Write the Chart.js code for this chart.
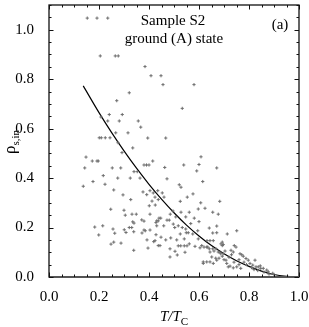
<!DOCTYPE html>
<html>
<head>
<meta charset="utf-8">
<script src="https://cdn.jsdelivr.net/npm/chart.js@4.4.1/dist/chart.umd.min.js"></script>
<style>
  body { margin: 0; background: #fff; }
  #wrap { width: 309px; height: 327px; }
</style>
</head>
<body>
<div id="wrap"><canvas id="myChart" width="309" height="327"></canvas></div>
<script>
// measured points, T/Tc
const pointsX = [
  0.153,0.192,0.235, 0.205,0.265,0.277, 0.384,0.408,0.448, 0.456,0.58,
  0.321,0.271,0.533, 0.241,0.293,0.208, 0.235,0.281,0.357, 0.367, 0.267,0.316,
  0.201,0.209,0.225,0.244,0.395,0.467, 0.276,0.335,0.292, 0.148,0.608,
  0.173,0.192,0.197,0.415, 0.38,0.39,0.40,0.539,0.6,
  0.463,0.143,0.253,0.287,0.671, 0.591,0.34,0.353,
  0.217,0.275,0.325,0.364,0.472, 0.176,0.615,0.224,0.521,0.137,0.528,
  0.259,0.404,0.435,0.376,0.417,0.453,0.576, 0.296,0.391,0.424,0.46,0.553,
  0.327,0.437,0.412,0.525,0.683,0.607, 0.425,0.401,
  0.624,0.247,0.3,0.597, 0.496,0.528,0.561,0.655,
  0.305,0.332,0.349,0.404,0.485,0.677, 0.507,0.547,0.44,0.447,0.581,
  0.371,0.38,0.472,0.481,0.437,0.431,0.428, 0.6,0.335,0.34,0.567,0.497,
  0.183,0.215,0.431,0.459,0.517,0.671, 0.321,0.331,0.503,0.533,0.641,
  0.256,0.301,0.38,0.385,0.404,0.547,0.595,0.751,
  0.308,0.339,0.372,0.263,0.549,0.557,0.655,0.671,
  0.199,0.428,0.525,0.575,0.713, 0.448,0.487,0.541,0.597,
  0.392,0.467,0.511,0.424,0.632,0.644,0.657,
  0.419,0.259,0.693,0.288,0.561,0.688,0.248,0.697,
  0.437,0.444,0.611,0.693,0.741, 0.517,0.527,0.541,0.552,0.584,
  0.62,0.631,0.635,0.748, 0.396,0.604,
  0.484,0.641,0.655,0.668, 0.339,0.728,0.66,0.704,0.504,
  0.644,0.677,0.737,0.544,0.684, 0.697,0.687,0.764,0.771,0.513,
  0.484,0.651,0.693,0.777, 0.667,0.68,0.788, 0.797,0.824,0.671,0.708,
  0.631,0.617,0.644, 0.617,0.657,0.711,0.804,
  0.815,0.724,0.717,0.751,0.828,0.837, 0.737,0.767,0.847,0.857,0.871,0.877,0.895,
  0.79,0.81,0.82,0.835,0.845,0.86,0.88,0.9,0.78,0.76,0.74,0.72,0.70,0.76,0.73
];
const pointsY = [
  1.047,1.047,1.047, 0.894,0.894,0.894, 0.851,0.814,0.814, 0.778,0.778,
  0.745,0.713,0.682, 0.657,0.657,0.647, 0.631,0.631,0.631, 0.606, 0.583,0.583,
  0.563,0.563,0.563,0.563,0.562,0.562, 0.543,0.522,0.503, 0.485,0.486,
  0.469,0.469,0.469,0.469, 0.453,0.453,0.453,0.453,0.455,
  0.443,0.441,0.441,0.441,0.441, 0.429,0.426,0.426,
  0.41,0.40,0.40,0.40,0.397, 0.386,0.386,0.375,0.373,0.367,0.363,
  0.352,0.349,0.349,0.344,0.34,0.34,0.336, 0.332,0.333,0.323,0.323,0.323,
  0.313,0.313,0.307,0.306,0.306,0.30, 0.291,0.288,
  0.278,0.274,0.27,0.275, 0.267,0.262,0.262,0.262,
  0.25,0.254,0.254,0.254,0.254,0.254, 0.243,0.243,0.238,0.238,0.238,
  0.231,0.226,0.23,0.23,0.227,0.227,0.22, 0.224,0.223,0.218,0.216,0.214,
  0.202,0.207,0.207,0.207,0.207,0.206, 0.2,0.2,0.2,0.2,0.198,
  0.194,0.191,0.19,0.187,0.19,0.194,0.187,0.187,
  0.18,0.183,0.178,0.177,0.179,0.179,0.178,0.179,
  0.17,0.171,0.174,0.174,0.174, 0.161,0.158,0.154,0.154,
  0.15,0.15,0.15,0.147,0.147,0.147,0.147,
  0.143,0.141,0.141,0.137,0.134,0.134,0.133,0.131,
  0.127,0.127,0.127,0.127,0.127, 0.126,0.126,0.126,0.126,0.124,
  0.121,0.121,0.121,0.121, 0.117,0.118,
  0.114,0.114,0.114,0.114, 0.108,0.108,0.105,0.105,0.104,
  0.101,0.101,0.101,0.1,0.1, 0.094,0.094,0.094,0.09,0.089,
  0.081,0.081,0.084,0.084, 0.076,0.076,0.075, 0.068,0.068,0.068,0.068,
  0.061,0.061,0.061, 0.055,0.055,0.055,0.055,
  0.048,0.044,0.041,0.041,0.041,0.041, 0.037,0.035,0.035,0.035,0.028,0.021,0.015,
  0.05,0.038,0.03,0.026,0.045,0.02,0.012,0.01,0.06,0.05,0.06,0.08,0.07,0.07,0.09
];

// solid curve
const curveX = [0.137, 0.2, 0.25, 0.3, 0.35, 0.4, 0.45, 0.5, 0.55, 0.6, 0.65, 0.7, 0.75, 0.8, 0.85, 0.9, 0.95, 1.0];
const curveY = [0.773, 0.665, 0.585, 0.51, 0.44, 0.375, 0.315, 0.26, 0.21, 0.166, 0.127, 0.094, 0.066, 0.043, 0.024, 0.01, 0.003, 0.0];

const xTicks = [0, 0.2, 0.4, 0.6, 0.8, 1.0];
const yTicks = [0, 0.2, 0.4, 0.6, 0.8, 1.0];

const serif = "'Liberation Serif', 'DejaVu Serif', serif";

const frame = {
  id: 'frame',
  afterDraw(chart) {
    const ctx = chart.ctx;
    const a = chart.chartArea;
    const xs = chart.scales.x, ys = chart.scales.y;
    ctx.save();
    ctx.strokeStyle = '#111';
    ctx.lineWidth = 1.3;
    ctx.strokeRect(a.left, a.top, a.right - a.left, a.bottom - a.top);
    // bottom axis a bit heavier
    ctx.strokeStyle = '#555';
    ctx.lineWidth = 2;
    ctx.beginPath();
    ctx.moveTo(a.left, a.bottom); ctx.lineTo(a.right, a.bottom);
    ctx.stroke();
    ctx.strokeStyle = '#111';
    ctx.lineWidth = 1;
    ctx.beginPath();
    for (let i = 0; i <= 20; i++) {
      const px = Math.round(xs.getPixelForValue(i / 20)) + 0.5;
      const len = i % 4 == 0 ? 4.5 : 2.5;
      ctx.moveTo(px, a.bottom); ctx.lineTo(px, a.bottom - len);
      ctx.moveTo(px, a.top); ctx.lineTo(px, a.top + len);
    }
    for (let i = 0; i <= 22; i++) {
      const py = Math.round(ys.getPixelForValue(i / 20)) + 0.5;
      const len = i % 4 == 0 ? 4.5 : 2.5;
      ctx.moveTo(a.left, py); ctx.lineTo(a.left + len, py);
      ctx.moveTo(a.right, py); ctx.lineTo(a.right - len, py);
    }
    ctx.stroke();

    // labels
    ctx.fillStyle = '#000';
    ctx.textBaseline = 'alphabetic';
    ctx.textAlign = 'center';
    ctx.font = '15px ' + serif;
    ctx.fillText('Sample S2', 173, 25);
    ctx.fillText('ground (A) state', 174, 43);
    ctx.fillText('(a)', 280, 29);

    // x title T/T_C
    const cx = (a.left + a.right) / 2;
    ctx.textAlign = 'left';
    ctx.font = 'italic 15px ' + serif;
    const w1 = ctx.measureText('T/T').width;
    ctx.font = '11px ' + serif;
    const w2 = ctx.measureText('C').width;
    let sx = cx - (w1 + w2) / 2;
    ctx.font = 'italic 15px ' + serif;
    ctx.fillText('T/T', sx, 321);
    ctx.font = '11px ' + serif;
    ctx.fillText('C', sx + w1, 325);

    // y title rho_s,in
    ctx.translate(15, 142);
    ctx.rotate(-Math.PI / 2);
    ctx.font = '17px ' + serif;
    const r1 = ctx.measureText('ρ').width;
    ctx.font = '11px ' + serif;
    const r2 = ctx.measureText('s,in').width;
    const rx = -(r1 + r2) / 2;
    ctx.font = '17px ' + serif;
    ctx.fillText('ρ', rx, 0);
    ctx.font = '11px ' + serif;
    ctx.fillText('s,in', rx + r1, 4);
    ctx.restore();
  }
};

const ctx = document.getElementById('myChart');

new Chart(ctx, {
  type: 'scatter',
  data: {
    datasets: [{
      label: 'data',
      data: pointsX.map((x, i) => ({ x: x, y: pointsY[i] })),
      pointStyle: 'cross',
      pointRadius: 1.6,
      borderWidth: 1,
      borderColor: '#6e6e6e',
      backgroundColor: '#6e6e6e'
    }, {
      label: 'fit',
      type: 'line',
      data: curveX.map((x, i) => ({ x: x, y: curveY[i] })),
      borderColor: '#000',
      borderWidth: 1.2,
      pointRadius: 0,
      cubicInterpolationMode: 'monotone',
      fill: false
    }]
  },
  options: {
    responsive: false,
    animation: false,
    layout: { padding: { top: 2, right: 10, left: 0, bottom: 0 } },
    plugins: { legend: { display: false }, tooltip: { enabled: false } },
    scales: {
      x: {
        type: 'linear',
        min: 0, max: 1,
        afterFit(s) { s.height = 50; s.paddingLeft = 0; s.paddingRight = 0; },
        afterBuildTicks(s) { s.ticks = xTicks.map(v => ({ value: v })); },
        grid: { display: false },
        border: { display: false },
        ticks: {
          padding: 3,
          color: '#000',
          font: { family: serif, size: 15 },
          callback: v => v.toFixed(1)
        }
      },
      y: {
        min: 0, max: 1.1,
        afterFit(s) { s.width = 49; s.paddingTop = 0; s.paddingBottom = 0; },
        afterBuildTicks(s) { s.ticks = yTicks.map(v => ({ value: v })); },
        grid: { display: false },
        border: { display: false },
        ticks: {
          padding: 7,
          color: '#000',
          font: { family: serif, size: 15 },
          callback: v => v.toFixed(1)
        }
      }
    }
  },
  plugins: [frame]
});
</script>
</body>
</html>
